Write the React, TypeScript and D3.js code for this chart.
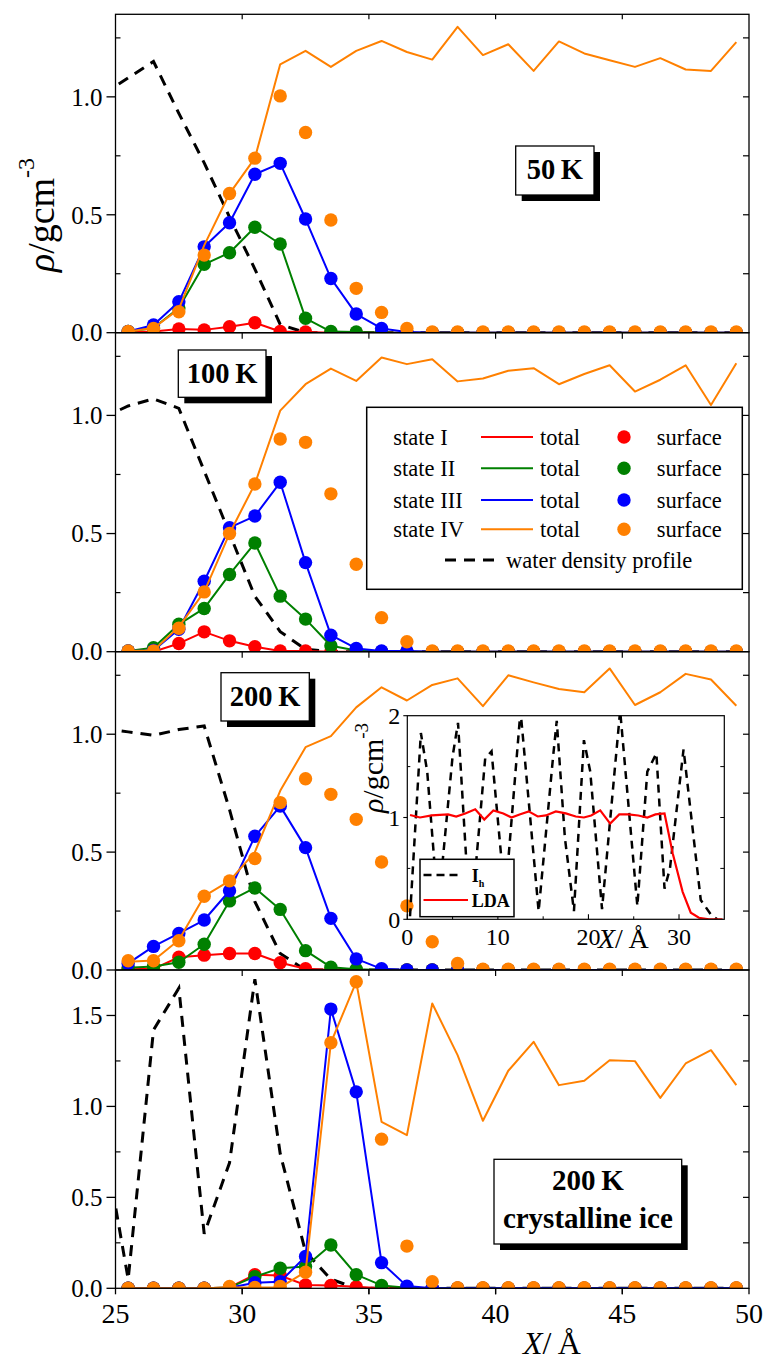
import React from 'react';
import * as d3 from 'd3';

// ---------- DATA ----------
const xs = [25.5, 26.5, 27.5, 28.5, 29.5, 30.5, 31.5, 32.5, 33.5, 34.5, 35.5, 36.5, 37.5, 38.5, 39.5, 40.5, 41.5, 42.5, 43.5, 44.5, 45.5, 46.5, 47.5, 48.5, 49.5];
const waterX = [24.5, 25.5, 26.5, 27.5, 28.5, 29.5, 30.5, 31.5, 32.5, 33.5, 34.5, 35.5, 36.5, 37.5, 38.5, 39.5, 40.5, 41.5, 42.5, 43.5, 44.5, 45.5, 46.5, 47.5, 48.5, 49.5];

// 50 K
const s50_I = [0.003, 0.005, 0.016, 0.012, 0.025, 0.042, 0.005, 0.003, 0, 0, 0, 0, 0, 0, 0, 0, 0, 0, 0, 0, 0, 0, 0, 0, 0];
const s50_II = [0.005, 0.02, 0.105, 0.29, 0.339, 0.447, 0.376, 0.061, 0.005, 0.003, 0, 0, 0, 0, 0, 0, 0, 0, 0, 0, 0, 0, 0, 0, 0];
const s50_III = [0.005, 0.033, 0.131, 0.364, 0.466, 0.672, 0.718, 0.482, 0.23, 0.079, 0.018, 0.003, 0, 0, 0, 0, 0, 0, 0, 0, 0, 0, 0, 0, 0];
const s50_IVsurf = [0.005, 0.018, 0.089, 0.329, 0.59, 0.74, 1.004, 0.849, 0.478, 0.188, 0.086, 0.018, 0.003, 0.003, 0.003, 0.003, 0.003, 0.003, 0.003, 0.003, 0.003, 0.003, 0.003, 0.003, 0.003];
const s50_IVtot = [0.005, 0.02, 0.1, 0.37, 0.59, 0.74, 1.138, 1.195, 1.127, 1.195, 1.237, 1.19, 1.158, 1.297, 1.177, 1.223, 1.11, 1.235, 1.184, 1.155, 1.127, 1.164, 1.116, 1.11, 1.232];
const w50 = [1.01, 1.08, 1.15, 0.93, 0.72, 0.49, 0.27, 0.035, 0, 0, 0, 0, 0, 0, 0, 0, 0, 0, 0, 0, 0, 0, 0, 0, 0, 0];

// 100 K
const s100_I = [0, 0, 0.035, 0.084, 0.046, 0.021, 0.003, 0.003, 0, 0, 0, 0, 0, 0, 0, 0, 0, 0, 0, 0, 0, 0, 0, 0, 0];
const s100_II = [0.003, 0.017, 0.116, 0.183, 0.327, 0.46, 0.235, 0.138, 0.025, 0.005, 0, 0, 0, 0, 0, 0, 0, 0, 0, 0, 0, 0, 0, 0, 0];
const s100_III = [0.003, 0.005, 0.095, 0.298, 0.525, 0.574, 0.717, 0.377, 0.07, 0.014, 0.003, 0.003, 0, 0, 0, 0, 0, 0, 0, 0, 0, 0, 0, 0, 0];
const s100_IVsurf = [0.003, 0.003, 0.099, 0.253, 0.5, 0.71, 0.9, 0.886, 0.668, 0.37, 0.144, 0.042, 0.003, 0.003, 0.003, 0.003, 0.003, 0.003, 0.003, 0.003, 0.003, 0.003, 0.003, 0.003, 0.003];
const s100_IVtot = [0.003, 0.005, 0.105, 0.253, 0.5, 0.71, 1.02, 1.132, 1.198, 1.146, 1.245, 1.217, 1.238, 1.144, 1.156, 1.189, 1.2, 1.132, 1.175, 1.212, 1.101, 1.151, 1.212, 1.044, 1.221];
const w100 = [0.99, 1.04, 1.07, 1.03, 0.765, 0.5, 0.235, 0.085, 0.01, 0, 0, 0, 0, 0, 0, 0, 0, 0, 0, 0, 0, 0, 0, 0, 0, 0];

// 200 K
const s200_I = [0.003, 0.005, 0.054, 0.063, 0.07, 0.07, 0.031, 0.005, 0, 0, 0, 0, 0, 0, 0, 0, 0, 0, 0, 0, 0, 0, 0, 0, 0];
const s200_II = [0.01, 0.015, 0.033, 0.109, 0.293, 0.348, 0.257, 0.082, 0.012, 0.003, 0, 0, 0, 0, 0, 0, 0, 0, 0, 0, 0, 0, 0, 0, 0];
const s200_III = [0.028, 0.1, 0.155, 0.212, 0.336, 0.567, 0.695, 0.519, 0.219, 0.047, 0.005, 0, 0, 0, 0, 0, 0, 0, 0, 0, 0, 0, 0, 0, 0];
const s200_IVsurf = [0.039, 0.039, 0.124, 0.313, 0.378, 0.473, 0.71, 0.811, 0.745, 0.639, 0.458, 0.272, 0.12, 0.028, 0.003, 0.003, 0.003, 0.003, 0.003, 0.003, 0.003, 0.003, 0.003, 0.003, 0.003];
const s200_IVtot = [0.035, 0.04, 0.127, 0.313, 0.378, 0.5, 0.76, 0.945, 0.992, 1.114, 1.199, 1.143, 1.209, 1.237, 1.119, 1.25, 1.22, 1.192, 1.178, 1.279, 1.124, 1.178, 1.256, 1.232, 1.121];
const w200 = [1.025, 1.01, 0.995, 1.02, 1.035, 0.68, 0.29, 0.07, 0, 0, 0, 0, 0, 0, 0, 0, 0, 0, 0, 0, 0, 0, 0, 0, 0, 0];

// 200 K crystalline ice
const sCr_I = [0, 0, 0, 0, 0.005, 0.075, 0.07, 0.018, 0.015, 0.008, 0, 0, 0, 0, 0, 0, 0, 0, 0, 0, 0, 0, 0, 0, 0];
const sCr_II = [0, 0, 0, 0, 0.005, 0.064, 0.11, 0.12, 0.238, 0.075, 0.016, 0.003, 0, 0, 0, 0, 0, 0, 0, 0, 0, 0, 0, 0, 0];
const sCr_III = [0, 0, 0, 0, 0.003, 0.031, 0.036, 0.175, 1.535, 1.08, 0.141, 0.012, 0, 0, 0, 0, 0, 0, 0, 0, 0, 0, 0, 0, 0];
const sCr_IVsurf = [0, 0, 0, 0, 0.01, 0.005, 0.01, 0.088, 1.35, 1.685, 0.82, 0.232, 0.036, 0.003, 0.003, 0.003, 0.003, 0.003, 0.003, 0.003, 0.003, 0.003, 0.003, 0.003, 0.003];
const sCr_IVtot = [0, 0, 0, 0, 0.005, 0.005, 0.005, 0.09, 1.35, 1.685, 0.915, 0.842, 1.566, 1.282, 0.921, 1.196, 1.355, 1.117, 1.141, 1.254, 1.249, 1.047, 1.236, 1.309, 1.117];
const wCr = [0.85, 0.05, 1.42, 1.65, 0.3, 0.69, 1.7, 0.74, 0.2, 0.05, 0, 0, 0, 0, 0, 0, 0, 0, 0, 0, 0, 0, 0, 0, 0, 0];

// inset
const ihX = [0.3, 1.5, 2.2, 3.4, 5.0, 5.6, 6.5, 7.2, 8.6, 9.3, 10.8, 12.5, 14.5, 16.1, 16.5, 17.4, 18.4, 19.5, 20.2, 21.5, 23.5, 25.4, 26.5, 27.5, 28.4, 29.0, 30.5, 32.4, 33.5, 34.2];
const ihY = [0.03, 1.83, 1.45, 0.1, 1.6, 1.93, 0.6, 0.15, 1.58, 1.65, 0.2, 2.05, 0.08, 1.6, 1.95, 0.8, 0.08, 1.76, 1.45, 0.1, 2.05, 0.13, 1.45, 1.63, 0.3, 0.5, 1.67, 0.19, 0.05, 0];
const ldaX = [0.3, 1.4, 2.7, 4.5, 5.4, 6.4, 7.5, 8.5, 9.5, 10.6, 11.5, 12.4, 13.4, 14.4, 15.3, 16.4, 17.5, 18.6, 19.5, 20.3, 21.3, 22.4, 23.4, 24.4, 25.5, 26.5, 27.4, 28.4, 29.3, 30.4, 31.3, 32.2, 33.3, 34.8];
const ldaY = [1.025, 1.0, 1.02, 1.03, 1.01, 1.04, 1.08, 0.98, 1.07, 1.04, 1.0, 1.03, 1.06, 1.01, 1.02, 1.06, 1.04, 1.01, 1.0, 1.02, 1.07, 0.94, 1.03, 1.03, 1.02, 1.0, 1.03, 1.04, 0.648, 0.27, 0.065, 0.015, 0, 0];

const xTicks = [25, 30, 35, 40, 45, 50];
const insetXTicks = [0, 10, 20, 30];
const insetYTicks = [0, 1, 2];
const stateNames = ['state I', 'state II', 'state III', 'state IV'];

// ---------- STYLE / LAYOUT ----------
const FONT = "'Liberation Serif', 'Times New Roman', serif";
const COLORS = ['#ff0000', '#008000', '#0000ff', '#ff8000'];
const X0 = 115.5, X1 = 749;
const x = d3.scaleLinear().domain([25, 50]).range([X0, X1]);

type PanelDef = {
  top: number; bottom: number; ymax: number;
  surf: number[][]; tot: number[][]; water: number[];
  label: string[]; box: [number, number, number, number]; lines: number[];
};

const panels: PanelDef[] = [
  { top: 14.3, bottom: 332.7, ymax: 1.35, surf: [s50_I, s50_II, s50_III, s50_IVsurf], tot: [s50_I, s50_II, s50_III, s50_IVtot], water: w50, label: ['50\u2009K'], box: [515.7, 146, 78.3, 49], lines: [178.5] },
  { top: 332.7, bottom: 651.7, ymax: 1.35, surf: [s100_I, s100_II, s100_III, s100_IVsurf], tot: [s100_I, s100_II, s100_III, s100_IVtot], water: w100, label: ['100\u2009K'], box: [178.3, 350, 87.7, 47.3], lines: [383] },
  { top: 651.7, bottom: 970, ymax: 1.35, surf: [s200_I, s200_II, s200_III, s200_IVsurf], tot: [s200_I, s200_II, s200_III, s200_IVtot], water: w200, label: ['200\u2009K'], box: [221, 672.7, 88.3, 48.3], lines: [706] },
  { top: 970, bottom: 1288.3, ymax: 1.75, surf: [sCr_I, sCr_II, sCr_III, sCr_IVsurf], tot: [sCr_I, sCr_II, sCr_III, sCr_IVtot], water: wCr, label: ['200\u2009K', 'crystalline ice'], box: [494, 1159.3, 187.7, 84.7], lines: [1189.5, 1227.5] },
];

function Panel({ p, idx }: { p: PanelDef; idx: number }) {
  const y = d3.scaleLinear().domain([0, p.ymax]).range([p.bottom, p.top]);
  const line = d3.line<[number, number]>().x(d => x(d[0])).y(d => y(d[1]));
  const clipId = `clip-panel-${idx}`;
  return (
    <g>
      <defs>
        <clipPath id={clipId}>
          <rect x={X0} y={p.top} width={X1 - X0} height={p.bottom - p.top} />
        </clipPath>
      </defs>
      <g clipPath={`url(#${clipId})`}>
        <path d={line(waterX.map((v, i) => [v, p.water[i]]) as [number, number][]) || ''} fill="none" stroke="#000" strokeWidth={3} strokeDasharray="11,8" />
        {p.surf.map((s, k) => (
          <g key={k}>
            <path d={line(xs.map((v, i) => [v, p.tot[k][i]]) as [number, number][]) || ''} fill="none" stroke={COLORS[k]} strokeWidth={2} strokeLinejoin="round" />
            {s.map((v, i) => (
              <circle key={i} cx={x(xs[i])} cy={y(v)} r={6.7} fill={COLORS[k]} />
            ))}
          </g>
        ))}
      </g>
    </g>
  );
}

function PanelAxes({ p }: { p: PanelDef }) {
  const y = d3.scaleLinear().domain([0, p.ymax]).range([p.bottom, p.top]);
  const majors = d3.range(0, p.ymax + 1e-6, 0.5);
  const minors = d3.range(0.25, p.ymax, 0.5);
  const rights = d3.range(0.25, p.ymax, 0.25);
  const [bx, by, bw, bh] = p.box;
  return (
    <g>
      <rect x={X0} y={p.top} width={X1 - X0} height={p.bottom - p.top} fill="none" stroke="#000" strokeWidth={1.3} />
      {majors.map(v => (
        <g key={'M' + v}>
          <line x1={X0 - 9} x2={X0} y1={y(v)} y2={y(v)} stroke="#000" strokeWidth={1.3} />
          <text x={X0 - 13} y={y(v)} dy="0.35em" textAnchor="end" fontSize={25} fontFamily={FONT}>{d3.format('.1f')(v)}</text>
        </g>
      ))}
      {minors.map(v => (
        <line key={'m' + v} x1={X0} x2={X0 + 5} y1={y(v)} y2={y(v)} stroke="#000" strokeWidth={1.2} />
      ))}
      {rights.map(v => (
        <line key={'r' + v} x1={X1 - 6} x2={X1} y1={y(v)} y2={y(v)} stroke="#000" strokeWidth={1.2} />
      ))}
      {xTicks.slice(1, -1).map(t => (
        <line key={'b' + t} x1={x(t)} x2={x(t)} y1={p.bottom} y2={p.bottom + 6} stroke="#000" strokeWidth={1.2} />
      ))}
      {/* label box */}
      <rect x={bx + 6} y={by + 6} width={bw} height={bh} fill="#000" />
      <rect x={bx} y={by} width={bw} height={bh} fill="#fff" stroke="#000" strokeWidth={1.3} />
      {p.label.map((t, i) => (
        <text key={i} x={bx + bw / 2} y={p.lines[i]} textAnchor="middle" fontWeight="bold" fontSize={p.label.length > 1 ? 29 : 28.5} fontFamily={FONT}>{t}</text>
      ))}
    </g>
  );
}

function Legend() {
  const rows = [437, 468.3, 500, 529.3];
  return (
    <g fontFamily={FONT} fontSize={22.5}>
      <rect x={366.7} y={407.3} width={375.6} height={182} fill="#fff" stroke="#000" strokeWidth={1.5} />
      {stateNames.map((s, k) => (
        <g key={k}>
          <text x={393.3} y={rows[k] + 8}>{s}</text>
          <line x1={481} x2={533} y1={rows[k]} y2={rows[k]} stroke={COLORS[k]} strokeWidth={2} />
          <text x={540} y={rows[k] + 8}>total</text>
          <circle cx={624} cy={rows[k]} r={6.7} fill={COLORS[k]} />
          <text x={656.7} y={rows[k] + 8}>surface</text>
        </g>
      ))}
      <line x1={445} x2={498} y1={560} y2={560} stroke="#000" strokeWidth={3} strokeDasharray="11,8" />
      <text x={506} y={567.5}>water density profile</text>
    </g>
  );
}

function Inset() {
  const L = 407.3, R = 724.3, T = 715.7, B = 919.3;
  const xi = d3.scaleLinear().domain([0, 35]).range([L, R]);
  const yi = d3.scaleLinear().domain([0, 2]).range([B, T]);
  const line = d3.line<[number, number]>().x(d => xi(d[0])).y(d => yi(d[1]));
  return (
    <g fontFamily={FONT}>
      <defs>
        <clipPath id="clip-inset"><rect x={L} y={T} width={R - L} height={B - T} /></clipPath>
      </defs>
      <g clipPath="url(#clip-inset)">
        <path d={line(ihX.map((v, i) => [v, ihY[i]]) as [number, number][]) || ''} fill="none" stroke="#000" strokeWidth={2.5} strokeDasharray="8,6" />
        <path d={line(ldaX.map((v, i) => [v, ldaY[i]]) as [number, number][]) || ''} fill="none" stroke="#ff0000" strokeWidth={2.2} />
      </g>
      <rect x={L} y={T} width={R - L} height={B - T} fill="none" stroke="#000" strokeWidth={1.2} />
      {insetXTicks.map(t => (
        <g key={'x' + t}>
          <line x1={xi(t)} x2={xi(t)} y1={B} y2={B - 5} stroke="#000" strokeWidth={1.1} />
          <text x={xi(t)} y={945} textAnchor="middle" fontSize={24}>{t}</text>
        </g>
      ))}
      {[5, 15, 25].map(t => (
        <line key={'xm' + t} x1={xi(t)} x2={xi(t)} y1={B} y2={B - 3} stroke="#000" strokeWidth={1} />
      ))}
      {insetYTicks.map(t => (
        <g key={'y' + t}>
          <line x1={L - 4} x2={L} y1={yi(t)} y2={yi(t)} stroke="#000" strokeWidth={1.1} />
          <text x={L - 7} y={yi(t)} dy="0.35em" textAnchor="end" fontSize={24}>{t}</text>
        </g>
      ))}
      {[0.5, 1.5].map(t => (
        <line key={'ym' + t} x1={L} x2={L + 3} y1={yi(t)} y2={yi(t)} stroke="#000" strokeWidth={1} />
      ))}
      {[0.5, 1, 1.5].map(t => (
        <line key={'yr' + t} x1={R - 4} x2={R} y1={yi(t)} y2={yi(t)} stroke="#000" strokeWidth={1} />
      ))}
      <text x={598} y={948} fontSize={28}><tspan fontStyle="italic">X</tspan>/{'\u2009'}Å</text>
      <text transform="translate(383,768) rotate(-90)" textAnchor="middle" fontSize={30}>
        <tspan fontStyle="italic">ρ</tspan>/gcm<tspan dy={-15} fontSize={19}>-3</tspan>
      </text>
      {/* inset legend */}
      <rect x={420} y={859.3} width={94} height={57.4} fill="#fff" stroke="#000" strokeWidth={1.5} />
      <line x1={423.5} x2={462} y1={875} y2={875} stroke="#000" strokeWidth={2.5} strokeDasharray="8,5" />
      <text x={471.7} y={882} fontSize={18} fontWeight="bold">I<tspan dy={5} fontSize={10}>h</tspan></text>
      <line x1={423.5} x2={468} y1={900} y2={900} stroke="#ff0000" strokeWidth={2.2} />
      <text x={471.7} y={907} fontSize={18} fontWeight="bold">LDA</text>
    </g>
  );
}

export default function App() {
  const last = panels[panels.length - 1];
  return (
    <svg width={765} height={1363} viewBox="0 0 765 1363" style={{ position: 'absolute', left: 0, top: 0, display: 'block', background: '#fff' }} fontFamily={FONT}>
      <rect x={0} y={0} width={765} height={1363} fill="#fff" />
      {panels.map((p, i) => <Panel key={i} p={p} idx={i} />)}
      {panels.map((p, i) => <PanelAxes key={'a' + i} p={p} />)}
      {/* top ticks */}
      {xTicks.slice(1, -1).map(t => (
        <line key={'t' + t} x1={x(t)} x2={x(t)} y1={panels[0].top} y2={panels[0].top + 5} stroke="#000" strokeWidth={1.2} />
      ))}
      {/* bottom axis labels */}
      {xTicks.map(t => (
        <g key={'bx' + t}>
          <line x1={x(t)} x2={x(t)} y1={last.bottom} y2={last.bottom + 6} stroke="#000" strokeWidth={1.3} />
          <text x={x(t)} y={1323} textAnchor="middle" fontSize={28}>{t}</text>
        </g>
      ))}
      <text x={523} y={1354} fontSize={32}><tspan fontStyle="italic">X</tspan>/{'\u2009'}Å</text>
      <text transform="translate(53.5,215) rotate(-90)" textAnchor="middle" fontSize={38}>
        <tspan fontStyle="italic">ρ</tspan>/gcm<tspan dy={-20} fontSize={24}>-3</tspan>
      </text>
      <Legend />
      <Inset />
    </svg>
  );
}
